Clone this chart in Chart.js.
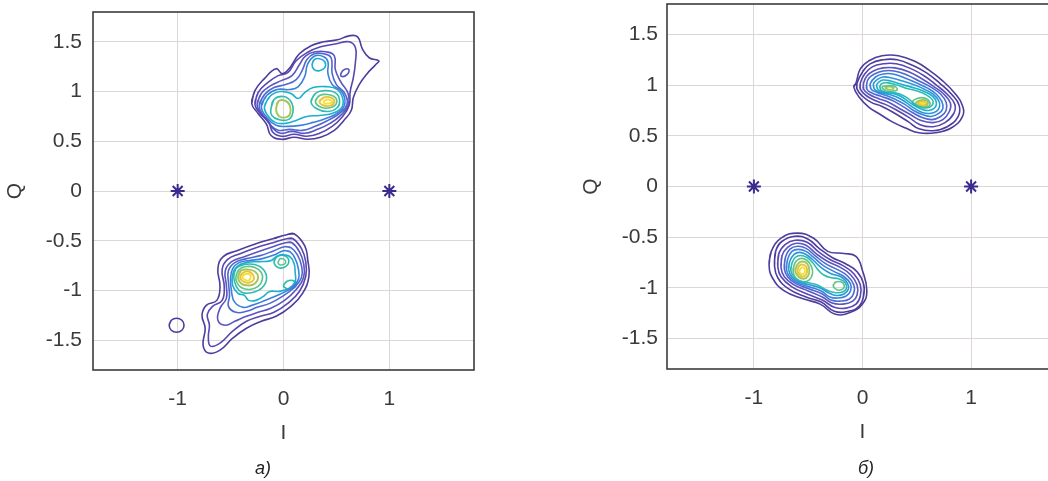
<!DOCTYPE html>
<html>
<head>
<meta charset="utf-8">
<script src="https://cdn.jsdelivr.net/npm/chart.js@4/dist/chart.umd.min.js"></script>
<style>
  html, body { margin: 0; padding: 0; background: #fff; overflow: hidden; }
  #wrap { position: relative; width: 1048px; height: 481px; overflow: hidden; }
  .box { position: absolute; }
  .cap { position: absolute; top: 458px; line-height: 20px; font: italic 18px "Liberation Sans", Arial, sans-serif; color: #222; transform: translateX(-50%); }
</style>
</head>
<body>
<div id="wrap">
  <div class="box" style="left:0;top:0;width:483px;height:481px"><canvas id="chartA"></canvas></div>
  <div class="box" style="left:560px;top:-5px;width:507px;height:486px"><canvas id="chartB"></canvas></div>
  <div class="cap" style="left:263px">a)</div>
  <div class="cap" style="left:866px">б)</div>
</div>
<script>
// axis ticks
const iTicks = [-1, 0, 1];
const qTicks = [-1.5, -1, -0.5, 0, 0.5, 1, 1.5];

// reference constellation points (asterisks)
const refI = [-1, 1];
const refQ = [0, 0];

// contour levels, panel a) upper cluster  [I, Q]
const aTop1 = [[-0.30,0.88],[-0.27,1.01],[-0.18,1.13],[-0.07,1.23],[-0.01,1.18],[0.06,1.24],[0.15,1.38],[0.26,1.46],[0.38,1.50],[0.51,1.52],[0.62,1.56],[0.70,1.55],[0.745,1.43],[0.81,1.34],[0.90,1.31],[0.87,1.27],[0.79,1.18],[0.71,1.06],[0.66,0.94],[0.64,0.81],[0.57,0.71],[0.48,0.61],[0.35,0.54],[0.23,0.52],[0.10,0.54],[-0.02,0.52],[-0.12,0.56],[-0.16,0.67],[-0.24,0.78]];
const aTop2 = [[-0.27,0.87],[-0.24,0.99],[-0.15,1.09],[-0.05,1.16],[0.04,1.19],[0.12,1.31],[0.22,1.39],[0.35,1.45],[0.50,1.48],[0.62,1.50],[0.68,1.44],[0.68,1.30],[0.66,1.14],[0.63,1.00],[0.62,0.86],[0.55,0.74],[0.46,0.65],[0.34,0.58],[0.22,0.55],[0.10,0.57],[-0.02,0.55],[-0.10,0.59],[-0.14,0.69],[-0.22,0.78]];
const aTop3 = [[-0.25,0.87],[-0.21,0.98],[-0.12,1.06],[-0.02,1.11],[0.08,1.16],[0.15,1.27],[0.21,1.36],[0.30,1.40],[0.40,1.40],[0.48,1.36],[0.49,1.22],[0.54,1.10],[0.61,0.98],[0.61,0.86],[0.54,0.76],[0.44,0.68],[0.32,0.62],[0.20,0.58],[0.08,0.60],[-0.03,0.58],[-0.10,0.63],[-0.15,0.71],[-0.22,0.79]];
const aTopIsland = [[0.54,1.17],[0.56,1.21],[0.60,1.23],[0.62,1.21],[0.60,1.17],[0.56,1.15]];
const aTop4 = [[-0.23,0.86],[-0.18,0.97],[-0.09,1.04],[0.02,1.07],[0.12,1.12],[0.18,1.22],[0.22,1.32],[0.29,1.38],[0.38,1.38],[0.45,1.34],[0.46,1.18],[0.50,1.07],[0.58,0.98],[0.60,0.87],[0.53,0.78],[0.42,0.71],[0.30,0.65],[0.18,0.61],[0.06,0.62],[-0.05,0.61],[-0.12,0.66],[-0.19,0.76]];
const aTop5 = [[-0.21,0.85],[-0.16,0.96],[-0.06,1.02],[0.06,1.02],[0.14,1.05],[0.20,1.15],[0.23,1.28],[0.30,1.36],[0.38,1.35],[0.42,1.30],[0.42,1.18],[0.46,1.07],[0.55,1.00],[0.58,0.88],[0.52,0.79],[0.40,0.73],[0.28,0.69],[0.16,0.66],[0.04,0.65],[-0.07,0.66],[-0.15,0.73]];
const aTopPeak = [[0.27,1.27],[0.29,1.32],[0.34,1.33],[0.39,1.30],[0.39,1.24],[0.34,1.21],[0.29,1.22]];
const aTop6 = [[-0.18,0.85],[-0.13,0.95],[-0.03,1.00],[0.07,0.98],[0.14,0.93],[0.20,0.99],[0.28,1.04],[0.40,1.05],[0.51,1.02],[0.56,0.93],[0.55,0.84],[0.46,0.78],[0.34,0.76],[0.22,0.75],[0.12,0.71],[0.02,0.68],[-0.08,0.69],[-0.15,0.76]];
const aTop7L = [[-0.12,0.82],[-0.09,0.92],[0.00,0.95],[0.07,0.90],[0.09,0.80],[0.05,0.72],[-0.05,0.72],[-0.11,0.76]];
const aTop7R = [[0.26,0.90],[0.30,0.98],[0.40,1.01],[0.50,0.98],[0.53,0.91],[0.51,0.84],[0.42,0.80],[0.31,0.83]];
const aTop8L = [[-0.07,0.82],[-0.05,0.90],[0.01,0.91],[0.06,0.86],[0.06,0.77],[0.02,0.74],[-0.04,0.75]];
const aTop8R = [[0.30,0.90],[0.34,0.96],[0.42,0.97],[0.49,0.94],[0.50,0.88],[0.45,0.84],[0.36,0.84]];
const aTop9 = [[0.34,0.90],[0.38,0.94],[0.45,0.94],[0.48,0.90],[0.45,0.86],[0.38,0.86]];
const aTop10 = [[0.38,0.90],[0.41,0.92],[0.45,0.91],[0.46,0.89],[0.42,0.88],[0.39,0.88]];

// panel a) lower cluster
const aBot1 = [[0.03,-0.44],[0.10,-0.43],[0.20,-0.55],[0.23,-0.70],[0.24,-0.86],[0.18,-1.03],[0.07,-1.16],[-0.07,-1.26],[-0.21,-1.31],[-0.35,-1.38],[-0.48,-1.48],[-0.60,-1.60],[-0.71,-1.63],[-0.76,-1.55],[-0.74,-1.38],[-0.77,-1.25],[-0.73,-1.15],[-0.63,-1.10],[-0.60,-0.96],[-0.62,-0.78],[-0.57,-0.66],[-0.44,-0.60],[-0.26,-0.53],[-0.10,-0.48]];
const aBot2 = [[0.03,-0.48],[0.09,-0.48],[0.17,-0.58],[0.21,-0.71],[0.21,-0.86],[0.15,-1.01],[0.04,-1.13],[-0.09,-1.22],[-0.22,-1.26],[-0.35,-1.31],[-0.48,-1.41],[-0.60,-1.53],[-0.69,-1.56],[-0.71,-1.47],[-0.70,-1.35],[-0.72,-1.24],[-0.67,-1.16],[-0.58,-1.10],[-0.56,-0.96],[-0.58,-0.79],[-0.53,-0.69],[-0.41,-0.63],[-0.26,-0.57],[-0.10,-0.52]];
const aBot3 = [[0.02,-0.52],[0.08,-0.52],[0.15,-0.61],[0.19,-0.73],[0.19,-0.87],[0.12,-0.99],[0.01,-1.10],[-0.12,-1.18],[-0.24,-1.22],[-0.35,-1.26],[-0.46,-1.31],[-0.55,-1.35],[-0.62,-1.30],[-0.60,-1.18],[-0.54,-1.08],[-0.54,-0.95],[-0.55,-0.80],[-0.49,-0.71],[-0.37,-0.66],[-0.24,-0.61],[-0.10,-0.56]];
const aBot4 = [[0.01,-0.56],[0.07,-0.57],[0.13,-0.64],[0.17,-0.75],[0.17,-0.87],[0.10,-0.97],[-0.01,-1.06],[-0.13,-1.13],[-0.25,-1.17],[-0.35,-1.21],[-0.45,-1.22],[-0.52,-1.16],[-0.51,-1.05],[-0.52,-0.92],[-0.52,-0.80],[-0.46,-0.72],[-0.35,-0.68],[-0.22,-0.65],[-0.09,-0.60]];
const aBot5 = [[0.00,-0.60],[0.06,-0.61],[0.11,-0.68],[0.14,-0.78],[0.14,-0.89],[0.07,-0.98],[-0.04,-1.04],[-0.13,-1.08],[-0.22,-1.12],[-0.30,-1.15],[-0.38,-1.17],[-0.46,-1.12],[-0.49,-1.02],[-0.50,-0.88],[-0.48,-0.78],[-0.42,-0.72],[-0.32,-0.70],[-0.20,-0.68],[-0.08,-0.64]];
const aBot6 = [[-0.01,-0.64],[0.06,-0.66],[0.10,-0.73],[0.11,-0.82],[0.11,-0.91],[0.05,-0.98],[-0.05,-1.01],[-0.13,-1.01],[-0.19,-1.06],[-0.26,-1.10],[-0.33,-1.10],[-0.37,-1.05],[-0.43,-1.03],[-0.48,-0.95],[-0.48,-0.84],[-0.44,-0.76],[-0.35,-0.72],[-0.23,-0.71],[-0.12,-0.70],[-0.07,-0.66]];
const aBot7 = [[-0.47,-0.86],[-0.45,-0.78],[-0.37,-0.74],[-0.27,-0.74],[-0.19,-0.79],[-0.16,-0.88],[-0.20,-0.97],[-0.29,-1.02],[-0.39,-1.02],[-0.45,-0.95]];
const aBot7a = [[-0.09,-0.71],[-0.06,-0.66],[0.01,-0.65],[0.05,-0.70],[0.02,-0.76],[-0.05,-0.77]];
const aBot7b = [[0.00,-0.95],[0.03,-0.91],[0.09,-0.90],[0.12,-0.94],[0.09,-0.98],[0.03,-0.98]];
const aBot8 = [[-0.45,-0.86],[-0.42,-0.79],[-0.35,-0.76],[-0.27,-0.77],[-0.21,-0.82],[-0.20,-0.89],[-0.24,-0.96],[-0.32,-0.99],[-0.40,-0.97],[-0.44,-0.92]];
const aBot8a = [[-0.05,-0.71],[-0.03,-0.68],[0.01,-0.69],[0.02,-0.72],[0.00,-0.74],[-0.04,-0.74]];
const aBot9 = [[-0.43,-0.86],[-0.40,-0.80],[-0.34,-0.79],[-0.27,-0.81],[-0.24,-0.87],[-0.27,-0.93],[-0.33,-0.95],[-0.40,-0.93]];
const aBot10 = [[-0.41,-0.86],[-0.38,-0.82],[-0.33,-0.81],[-0.29,-0.84],[-0.28,-0.89],[-0.32,-0.92],[-0.38,-0.91]];
const aBot11 = [[-0.39,-0.86],[-0.36,-0.835],[-0.32,-0.84],[-0.31,-0.87],[-0.33,-0.90],[-0.37,-0.89]];
const aStray = [[-1.08,-1.35],[-1.06,-1.30],[-1.01,-1.28],[-0.96,-1.30],[-0.94,-1.35],[-0.96,-1.40],[-1.01,-1.42],[-1.06,-1.40]];

// panel б) upper cluster
const bTop1 = [[-0.06,1.02],[-0.08,0.98],[-0.03,0.88],[0.06,0.78],[0.15,0.72],[0.27,0.64],[0.39,0.58],[0.52,0.53],[0.67,0.53],[0.82,0.58],[0.92,0.69],[0.92,0.80],[0.85,0.92],[0.73,1.05],[0.61,1.15],[0.49,1.23],[0.33,1.29],[0.18,1.29],[0.06,1.24],[-0.02,1.16]];
const bTop2 = [[-0.05,1.02],[-0.05,0.96],[0.00,0.89],[0.08,0.83],[0.18,0.79],[0.30,0.72],[0.42,0.64],[0.52,0.57],[0.65,0.55],[0.78,0.59],[0.88,0.69],[0.89,0.80],[0.82,0.91],[0.71,1.02],[0.59,1.12],[0.47,1.19],[0.32,1.25],[0.19,1.25],[0.07,1.21],[0.00,1.13]];
const bTop3 = [[-0.02,1.02],[-0.02,0.96],[0.03,0.90],[0.11,0.85],[0.21,0.81],[0.32,0.75],[0.43,0.68],[0.53,0.61],[0.65,0.59],[0.76,0.63],[0.84,0.72],[0.85,0.81],[0.78,0.91],[0.68,1.00],[0.57,1.09],[0.45,1.16],[0.31,1.21],[0.19,1.21],[0.09,1.18],[0.02,1.11]];
const bTop4 = [[0.01,1.02],[0.01,0.96],[0.06,0.91],[0.14,0.87],[0.24,0.83],[0.34,0.77],[0.44,0.71],[0.54,0.65],[0.65,0.63],[0.74,0.66],[0.80,0.74],[0.81,0.82],[0.75,0.91],[0.65,0.99],[0.55,1.06],[0.43,1.13],[0.30,1.17],[0.19,1.17],[0.10,1.14],[0.04,1.09]];
const bTop5 = [[0.04,1.02],[0.04,0.96],[0.09,0.92],[0.17,0.89],[0.27,0.85],[0.37,0.79],[0.46,0.73],[0.55,0.68],[0.64,0.66],[0.72,0.69],[0.77,0.75],[0.77,0.83],[0.72,0.91],[0.63,0.98],[0.52,1.04],[0.41,1.10],[0.29,1.14],[0.19,1.14],[0.11,1.11],[0.06,1.07]];
const bTop6 = [[0.07,1.01],[0.08,0.96],[0.13,0.93],[0.21,0.90],[0.30,0.86],[0.39,0.81],[0.47,0.75],[0.55,0.71],[0.63,0.69],[0.70,0.72],[0.74,0.77],[0.73,0.84],[0.68,0.91],[0.60,0.97],[0.50,1.02],[0.39,1.07],[0.28,1.11],[0.19,1.11],[0.12,1.08]];
const bTop7 = [[0.10,1.01],[0.11,0.96],[0.16,0.93],[0.24,0.91],[0.32,0.88],[0.40,0.83],[0.48,0.77],[0.55,0.73],[0.62,0.72],[0.68,0.74],[0.71,0.79],[0.70,0.85],[0.65,0.91],[0.57,0.96],[0.48,1.00],[0.37,1.04],[0.27,1.07],[0.19,1.08],[0.13,1.05]];
const bTop8 = [[0.13,1.00],[0.14,0.96],[0.19,0.93],[0.27,0.92],[0.35,0.89],[0.42,0.84],[0.49,0.79],[0.55,0.76],[0.61,0.75],[0.66,0.77],[0.68,0.81],[0.67,0.86],[0.62,0.91],[0.54,0.95],[0.45,0.98],[0.35,1.01],[0.26,1.04],[0.19,1.05],[0.15,1.03]];
const bTop9 = [[0.16,0.99],[0.17,0.95],[0.22,0.93],[0.29,0.925],[0.37,0.90],[0.44,0.85],[0.50,0.80],[0.56,0.78],[0.61,0.78],[0.64,0.80],[0.65,0.84],[0.62,0.88],[0.56,0.92],[0.48,0.95],[0.40,0.97],[0.32,1.00],[0.25,1.02],[0.19,1.02]];
const bTop10L = [[0.18,0.975],[0.21,0.945],[0.27,0.94],[0.32,0.955],[0.30,0.985],[0.25,0.995],[0.20,0.99]];
const bTop10R = [[0.46,0.83],[0.50,0.79],[0.56,0.775],[0.61,0.79],[0.62,0.83],[0.58,0.87],[0.51,0.87]];
const bTop11L = [[0.21,0.97],[0.24,0.955],[0.28,0.96],[0.285,0.975],[0.24,0.985]];
const bTop11R = [[0.49,0.82],[0.52,0.79],[0.57,0.785],[0.60,0.81],[0.59,0.85],[0.53,0.85]];
const bTop12 = [[0.51,0.82],[0.54,0.80],[0.57,0.80],[0.59,0.82],[0.57,0.84],[0.53,0.84]];
const bTop13 = [[0.53,0.82],[0.55,0.81],[0.57,0.82],[0.56,0.83],[0.54,0.83]];

// panel б) lower cluster
const bBot1 = [[-0.86,-0.77],[-0.84,-0.64],[-0.75,-0.51],[-0.60,-0.46],[-0.45,-0.51],[-0.32,-0.64],[-0.17,-0.66],[-0.06,-0.69],[0.00,-0.83],[0.04,-1.03],[0.00,-1.16],[-0.11,-1.24],[-0.25,-1.26],[-0.39,-1.16],[-0.54,-1.11],[-0.72,-1.03],[-0.83,-0.90]];
const bBot2 = [[-0.81,-0.78],[-0.80,-0.64],[-0.74,-0.54],[-0.62,-0.49],[-0.50,-0.52],[-0.40,-0.61],[-0.28,-0.70],[-0.16,-0.76],[-0.05,-0.84],[0.01,-0.96],[0.01,-1.08],[-0.03,-1.18],[-0.13,-1.23],[-0.26,-1.23],[-0.38,-1.14],[-0.52,-1.09],[-0.68,-1.01],[-0.78,-0.90]];
const bBot3 = [[-0.78,-0.79],[-0.77,-0.66],[-0.71,-0.57],[-0.62,-0.53],[-0.51,-0.55],[-0.41,-0.64],[-0.30,-0.72],[-0.18,-0.78],[-0.08,-0.86],[-0.02,-0.97],[-0.02,-1.08],[-0.06,-1.16],[-0.15,-1.20],[-0.26,-1.19],[-0.37,-1.12],[-0.51,-1.06],[-0.65,-0.99],[-0.75,-0.89]];
const bBot4 = [[-0.75,-0.80],[-0.74,-0.68],[-0.69,-0.60],[-0.61,-0.56],[-0.52,-0.58],[-0.43,-0.66],[-0.32,-0.74],[-0.20,-0.80],[-0.11,-0.87],[-0.05,-0.97],[-0.05,-1.07],[-0.09,-1.13],[-0.18,-1.16],[-0.28,-1.15],[-0.37,-1.09],[-0.50,-1.03],[-0.63,-0.97],[-0.72,-0.89]];
const bBot5 = [[-0.72,-0.81],[-0.71,-0.70],[-0.67,-0.62],[-0.60,-0.59],[-0.52,-0.61],[-0.44,-0.68],[-0.34,-0.76],[-0.23,-0.82],[-0.14,-0.88],[-0.08,-0.97],[-0.08,-1.05],[-0.12,-1.11],[-0.20,-1.13],[-0.29,-1.12],[-0.37,-1.06],[-0.49,-1.01],[-0.61,-0.96],[-0.69,-0.89]];
const bBot6 = [[-0.70,-0.82],[-0.69,-0.72],[-0.65,-0.64],[-0.59,-0.62],[-0.52,-0.64],[-0.45,-0.70],[-0.36,-0.78],[-0.26,-0.84],[-0.17,-0.89],[-0.11,-0.96],[-0.11,-1.03],[-0.15,-1.08],[-0.22,-1.10],[-0.30,-1.09],[-0.38,-1.03],[-0.49,-0.99],[-0.60,-0.95],[-0.67,-0.89]];
const bBot7 = [[-0.68,-0.82],[-0.67,-0.74],[-0.63,-0.67],[-0.58,-0.65],[-0.52,-0.67],[-0.46,-0.72],[-0.38,-0.80],[-0.29,-0.86],[-0.20,-0.89],[-0.14,-0.95],[-0.13,-1.01],[-0.17,-1.06],[-0.24,-1.075],[-0.31,-1.05],[-0.39,-1.00],[-0.49,-0.97],[-0.59,-0.94],[-0.65,-0.89]];
const bBot8 = [[-0.66,-0.83],[-0.65,-0.76],[-0.62,-0.70],[-0.57,-0.68],[-0.51,-0.70],[-0.46,-0.75],[-0.41,-0.82],[-0.36,-0.87],[-0.29,-0.90],[-0.22,-0.91],[-0.16,-0.95],[-0.15,-1.01],[-0.20,-1.045],[-0.28,-1.04],[-0.35,-1.01],[-0.42,-0.97],[-0.50,-0.95],[-0.58,-0.93],[-0.63,-0.89]];
const bBot9 = [[-0.64,-0.83],[-0.62,-0.75],[-0.57,-0.71],[-0.51,-0.73],[-0.47,-0.79],[-0.46,-0.86],[-0.49,-0.92],[-0.55,-0.94],[-0.61,-0.91]];
const bBot9s = [[-0.27,-0.98],[-0.25,-0.945],[-0.20,-0.94],[-0.17,-0.97],[-0.18,-1.01],[-0.23,-1.02]];
const bBot10 = [[-0.62,-0.83],[-0.60,-0.77],[-0.56,-0.74],[-0.51,-0.76],[-0.49,-0.82],[-0.50,-0.88],[-0.54,-0.91],[-0.59,-0.89]];
const bBot11 = [[-0.60,-0.83],[-0.58,-0.78],[-0.55,-0.77],[-0.52,-0.79],[-0.51,-0.84],[-0.53,-0.88],[-0.57,-0.88]];
const bBot12 = [[-0.58,-0.83],[-0.56,-0.80],[-0.54,-0.80],[-0.53,-0.83],[-0.54,-0.86],[-0.57,-0.86]];

// parula-like level colours, outer (low) -> inner (high)
const levelColors = ['#4e3d9e', '#5847b0', '#5a55c0', '#4f68d0', '#3c80dc', '#2898da',
                     '#1cb0cf', '#2fbcae', '#5ec48c', '#a5c75a', '#e6c440', '#f7e030'];

const panelA = [
  [aTop1, 0], [aTop2, 1], [aTop3, 2], [aTopIsland, 2], [aTop4, 3], [aTop5, 4], [aTopPeak, 6],
  [aTop6, 6], [aTop7L, 7], [aTop7R, 7], [aTop8L, 9], [aTop8R, 8], [aTop9, 10], [aTop10, 11],
  [aBot1, 0], [aBot2, 1], [aBot3, 2], [aBot4, 3], [aBot5, 4], [aBot6, 6], [aBot7, 7],
  [aBot7a, 7], [aBot7b, 7], [aBot8, 8], [aBot8a, 8], [aBot9, 9], [aBot10, 10], [aBot11, 11],
  [aStray, 0]
];
const panelB = [
  [bTop1, 0], [bTop2, 0], [bTop3, 1], [bTop4, 2], [bTop5, 3], [bTop6, 4], [bTop7, 5],
  [bTop8, 6], [bTop9, 7], [bTop10L, 8], [bTop10R, 8], [bTop11L, 9], [bTop11R, 9], [bTop12, 10], [bTop13, 11],
  [bBot1, 0], [bBot2, 0], [bBot3, 1], [bBot4, 2], [bBot5, 3], [bBot6, 4], [bBot7, 5],
  [bBot8, 7], [bBot9, 8], [bBot9s, 8], [bBot10, 9], [bBot11, 10], [bBot12, 11]
];

const FONT = '"Liberation Sans", Arial, Helvetica, sans-serif';
const TXT = '#3a3a3a';

function ring(pts, lvl) {
  const d = pts.map(p => ({ x: p[0], y: p[1] }));
  // close the loop (repeat first two so the spline joins smoothly)
  d.push({ x: pts[0][0], y: pts[0][1] }, { x: pts[1][0], y: pts[1][1] });
  return {
    data: d,
    showLine: true,
    borderColor: levelColors[lvl],
    borderWidth: lvl >= 9 ? 1.9 : 1.6,
    pointRadius: 0,
    tension: 0.45,
    fill: false
  };
}

function stars() {
  return {
    data: refI.map((v, i) => ({ x: v, y: refQ[i] })),
    showLine: false,
    pointStyle: 'star',
    pointRadius: 7,
    borderWidth: 2,
    borderColor: '#3a2b8f',
    backgroundColor: '#3a2b8f'
  };
}

const frame = {
  id: 'frame',
  afterDraw(chart) {
    const { ctx, chartArea } = chart;
    ctx.save();
    ctx.strokeStyle = '#3c3c3c';
    ctx.lineWidth = 1.6;
    ctx.strokeRect(chartArea.left, chartArea.top, chartArea.right - chartArea.left, chartArea.bottom - chartArea.top);
    ctx.restore();
  }
};

function makeChart(id, rings, cfg) {
  return new Chart(document.getElementById(id), {
    type: 'scatter',
    data: { datasets: rings.map(r => ring(r[0], r[1])).concat([stars()]) },
    plugins: [frame],
    options: {
      responsive: true,
      maintainAspectRatio: false,
      animation: false,
      events: [],
      layout: { padding: cfg.pad },
      plugins: { legend: { display: false }, tooltip: { enabled: false } },
      scales: {
        x: {
          type: 'linear', min: -1.8, max: 1.8,
          afterBuildTicks: s => { s.ticks = iTicks.map(v => ({ value: v })); },
          afterFit: s => { s.height = cfg.xh; s.paddingLeft = 0; s.paddingRight = 0; },
          grid: { color: '#ddd6d6', lineWidth: 1, drawTicks: false },
          border: { display: false },
          ticks: { color: TXT, font: { family: FONT, size: 21 }, padding: 17, maxRotation: 0, autoSkip: false, callback: v => String(v) },
          title: { display: true, text: 'I', color: TXT, font: { family: FONT, size: 21 }, padding: { top: 0, bottom: cfg.xtp } }
        },
        y: {
          type: 'linear', min: -1.8, max: 1.8,
          afterBuildTicks: s => { s.ticks = qTicks.map(v => ({ value: v })); },
          afterFit: s => { s.width = cfg.yw; s.paddingTop = 0; s.paddingBottom = 0; },
          grid: { color: '#ddd6d6', lineWidth: 1, drawTicks: false },
          border: { display: false },
          ticks: { color: TXT, font: { family: FONT, size: 21 }, padding: cfg.ytp, autoSkip: false, callback: v => String(v) },
          title: { display: true, text: 'Q', color: TXT, font: { family: FONT, size: 21 }, padding: { top: cfg.qp, bottom: 0 } }
        }
      }
    }
  });
}

makeChart('chartA', panelA, { pad: { top: 12, right: 0, bottom: 0, left: 0 }, xh: 111, yw: 93, xtp: 35, ytp: 11, qp: 3 });
makeChart('chartB', panelB, { pad: { top: 0, right: 0, bottom: 0, left: 0 }, xh: 112, yw: 107, xtp: 36, ytp: 9, qp: 19 });
</script>
</body>
</html>
